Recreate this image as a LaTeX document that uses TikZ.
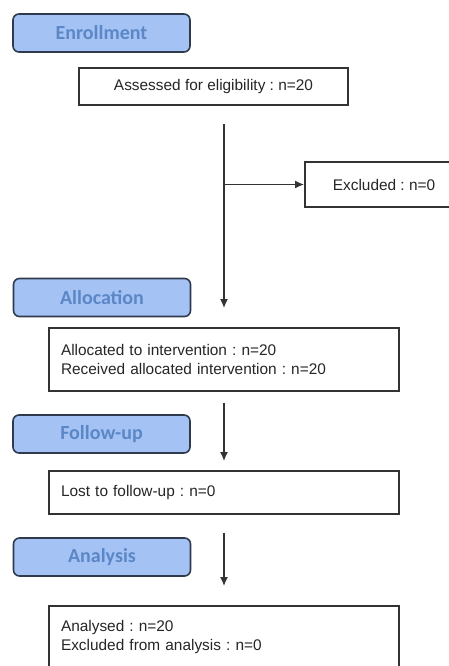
\documentclass[tikz,border=0pt]{standalone}
\usepackage{fontspec}
\setmainfont{Liberation Sans}
\newfontfamily\phasefont{Carlito}
\usepackage{tikz}
\usetikzlibrary{shapes}
\usetikzlibrary{arrows.meta}

\definecolor{phasefill}{HTML}{A4C2F4}
\definecolor{phasetext}{HTML}{5B87C6}
\definecolor{phasedraw}{HTML}{2F3B4C}
\definecolor{boxdraw}{HTML}{333333}

\frenchspacing

\begin{document}
\begin{tikzpicture}[x=1pt,y=-1pt]
                \tikzset{phase/.style = {shape=rectangle,rounded corners=6pt,draw=phasedraw,line width=1.6pt,fill=phasefill,text=phasetext,minimum width=177pt,minimum height=38pt,font=\phasefont\bfseries\fontsize{20}{24}\selectfont}}
                \tikzset{entry/.style = {shape=rectangle,draw=boxdraw,line width=1.7pt,fill=white,font=\fontsize{15.4}{19}\selectfont,text=black!85}}
                \tikzset{listbox/.style = {entry,minimum width=350pt,text width=326pt,inner xsep=12pt,align=left}}
                \tikzset{edge/.style = {-{Latex[length=9pt,width=8pt]},draw=boxdraw,line width=1.7pt}}

                \useasboundingbox (0,0) rectangle (449,666);

                \node[phase] (enrol) at (101.5,33) {Enrollment};
                \node[phase] (alloclab) at (102,297.5) {Allocation};
                \node[phase] (follow) at (101.5,434) {Follow-up};
                \node[phase] (analysis) at (102,557) {Analysis};

                \node[entry,minimum width=269pt,minimum height=37pt] (assess) at (213.5,86.5) {Assessed for eligibility : n=20};
                \node[entry,minimum width=158pt,minimum height=45pt] (excl) at (384,184.5) {Excluded : n=0};
                \node[listbox,minimum height=63pt] (alloc) at (224,359.5) {Allocated to intervention : n=20\\Received allocated intervention : n=20};
                \node[listbox,minimum height=43pt] (lost) at (224,492.5) {Lost to follow-up : n=0};
                \node[listbox,minimum height=63pt] (anal) at (224,637.5) {Analysed : n=20\\Excluded from analysis : n=0};

                \coordinate (branch) at (224,184.5);

                \draw[edge,shorten <=18pt,shorten >=19pt] (alloc.north |- assess.south) -- (alloc.north);
                \draw[edge] (branch) -- (excl.west);
                \draw[edge,shorten <=11pt,shorten >=9pt] (alloc.south) -- (lost.north);
                \draw[edge,shorten <=18pt,shorten >=19pt] (lost.south) -- (anal.north);

\end{tikzpicture}
\end{document}
